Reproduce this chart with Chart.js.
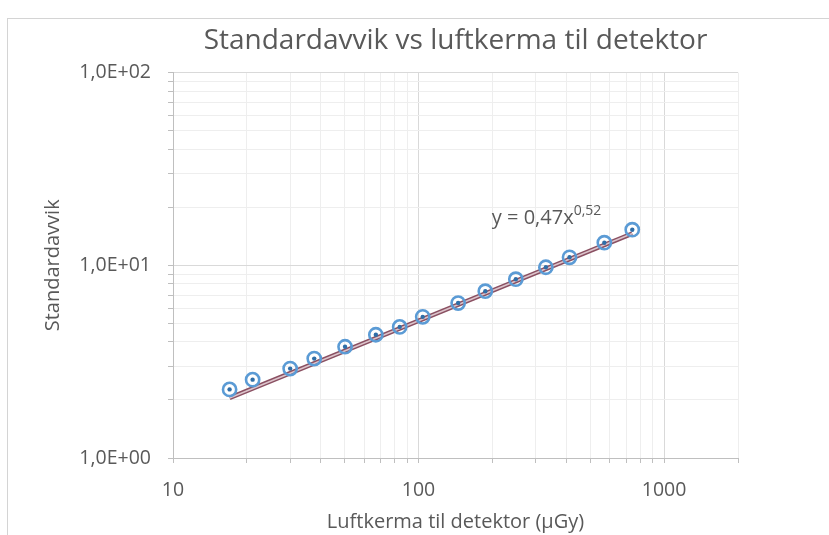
<!DOCTYPE html>
<html><head><meta charset="utf-8">
<script src="https://cdn.jsdelivr.net/npm/chart.js@4.4.0/dist/chart.umd.min.js"></script>
<style>
html,body{margin:0;padding:0;background:#fff;}
#wrap{position:absolute;left:0;top:0;width:829px;height:535px;overflow:hidden;}
#frame{position:absolute;left:7px;top:18px;width:900px;height:600px;border-left:1px solid #d4d4d4;border-top:1px solid #d4d4d4;}
canvas{position:absolute;left:0;top:0;}
</style></head>
<body><div id="wrap"><div id="frame"></div><canvas id="c" width="829" height="535"></canvas></div>
<script>
// Data
const luftkerma = [17.0, 21.1, 30.0, 37.6, 50.2, 67.0, 83.8, 104, 145, 187, 249, 330, 412, 571, 742];
const standardavvik = [2.27, 2.55, 2.91, 3.28, 3.78, 4.36, 4.79, 5.40, 6.37, 7.34, 8.47, 9.77, 11.0, 13.1, 15.3];
// Power trendline shown in the chart: y = 0,47 x^0,52
const trendCoefA = 0.47;
const trendExpB = 0.52;
const xTickLabels = ['10', '100', '1000'];
const yTickLabels = ['1,0E+00', '1,0E+01', '1,0E+02'];
const chartTitle = 'Standardavvik vs luftkerma til detektor';
const xTitle = 'Luftkerma til detektor (µGy)';
const yTitle = 'Standardavvik';

const FONT = "'Open Sans', 'Liberation Sans', sans-serif";
const TEXT = '#595959';

const points = luftkerma.map((x, i) => ({x, y: standardavvik[i]}));
const xFirst = luftkerma[0], xLast = luftkerma[luftkerma.length - 1];
const trend = [xFirst, xLast].map(x => ({x, y: trendCoefA * Math.pow(x, trendExpB)}));

function isPow10(v) {
  const l = Math.log10(v);
  return Math.abs(l - Math.round(l)) < 1e-9;
}
function dropHalfSteps(scale) {
  scale.ticks = scale.ticks.filter(t => {
    const m = t.value / Math.pow(10, Math.floor(Math.log10(t.value) + 1e-9));
    return Math.abs(m - 1.5) > 1e-6;
  });
}
const gridColor = ctx => (ctx.tick && isPow10(ctx.tick.value)) ? '#d9d9d9' : '#eeeeee';

const eqLabel = {
  id: 'eqLabel',
  afterDatasetsDraw(chart) {
    const ctx = chart.ctx;
    const xs = chart.scales.x, ys = chart.scales.y;
    const px = xs.getPixelForValue(xLast);
    const py = ys.getPixelForValue(standardavvik[standardavvik.length - 1]);
    const main = 'y = ' + String(trendCoefA).replace('.', ',') + 'x';
    const sup = String(trendExpB).replace('.', ',');
    ctx.save();
    ctx.fillStyle = TEXT;
    ctx.textBaseline = 'alphabetic';
    ctx.font = '20px ' + FONT;
    const wMain = ctx.measureText(main).width;
    ctx.font = '14px ' + FONT;
    const wSup = ctx.measureText(sup).width;
    const right = px - 31;
    const base = py - 6;
    const left = right - wSup - wMain;
    ctx.font = '20px ' + FONT;
    ctx.fillText(main, left, base);
    ctx.font = '14px ' + FONT;
    ctx.fillText(sup, left + wMain, base - 9);
    ctx.restore();
  }
};

new Chart(document.getElementById('c'), {
  type: 'scatter',
  data: {
    datasets: [
      {
        data: points, showLine: false,
        pointRadius: 6.6, pointHoverRadius: 6.6, pointBorderWidth: 2.6,
        pointBorderColor: '#5b9bd5', pointBackgroundColor: 'rgba(0,0,0,0)'
      },
      {
        data: points, showLine: false,
        pointRadius: 2.2, pointHoverRadius: 2.2, pointBorderWidth: 0,
        pointBackgroundColor: '#2f6ea8', pointBorderColor: '#2f6ea8'
      },
      {
        data: trend, showLine: true, pointRadius: 0,
        borderColor: '#dcc4cb', borderWidth: 1.6
      },
      {
        data: trend, showLine: true, pointRadius: 0,
        borderColor: '#8a5062', borderWidth: 4.6
      }
    ]
  },
  options: {
    responsive: false,
    animation: false,
    events: [],
    layout: {padding: {left: 0, right: 91, top: 0, bottom: 0}},
    plugins: {
      legend: {display: false},
      tooltip: {enabled: false},
      title: {
        display: true, text: chartTitle, color: TEXT, fullSize: false,
        font: {family: FONT, size: 28, weight: 'normal'},
        padding: {top: 24, bottom: 15}
      }
    },
    scales: {
      x: {
        type: 'logarithmic', min: 10, max: 2000,
        afterBuildTicks: dropHalfSteps,
        afterFit: s => { s.height = 77; },
        grid: {color: gridColor, lineWidth: 1, drawTicks: true, tickLength: 5, tickColor: '#bfbfbf'},
        border: {color: '#bfbfbf', width: 1},
        ticks: {
          autoSkip: false, maxRotation: 0, color: TEXT, padding: 16,
          font: {family: FONT, size: 19.5},
          callback: v => isPow10(v) ? (xTickLabels[Math.round(Math.log10(v)) - 1] || '') : ''
        },
        title: {display: true, text: xTitle, color: TEXT, font: {family: FONT, size: 20}, padding: {top: 0, bottom: 1}}
      },
      y: {
        type: 'logarithmic', min: 1, max: 100,
        afterBuildTicks: dropHalfSteps,
        afterFit: s => { s.width = 173; },
        grid: {color: gridColor, lineWidth: 1, drawTicks: true, tickLength: 5, tickColor: '#bfbfbf'},
        border: {color: '#bfbfbf', width: 1},
        ticks: {
          autoSkip: false, color: TEXT, padding: 17,
          font: {family: FONT, size: 19.5},
          callback: v => isPow10(v) ? (yTickLabels[Math.round(Math.log10(v))] || '') : ''
        },
        title: {display: true, text: yTitle, color: TEXT, font: {family: FONT, size: 20}, padding: {top: 41, bottom: 0}}
      }
    }
  },
  plugins: [eqLabel]
});
</script>
</body></html>
